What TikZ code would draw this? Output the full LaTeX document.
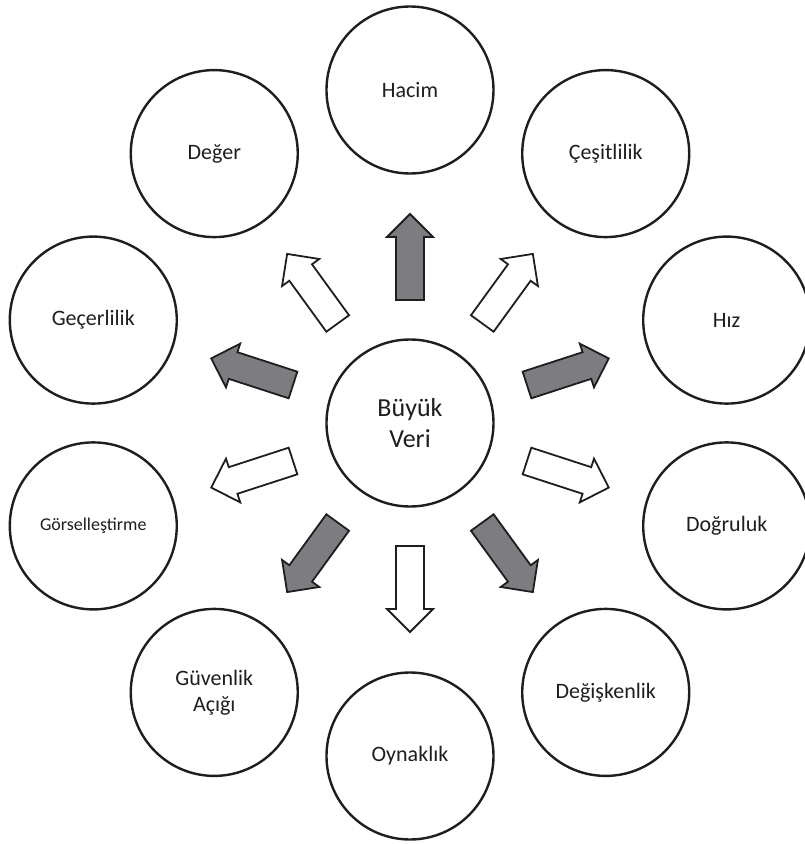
\documentclass[tikz,border=0pt]{standalone}
\usepackage{fontspec}
\setmainfont{Carlito}
\usepackage{tikz}
\definecolor{arrowgray}{RGB}{124,124,129}
\definecolor{inkgray}{RGB}{30,30,30}

\begin{document}
\begin{tikzpicture}[x=1pt, y=1pt,
    topic/.style={circle, draw=inkgray, line width=2.4pt, fill=white,
      minimum size=167pt, inner sep=0pt, align=center, text=inkgray,
      font=\fontsize{22}{26}\selectfont},
    blockarrow/.style={draw=inkgray, line width=1.8pt, line join=miter}]
    \useasboundingbox (-410,-421) rectangle (395,423);
    \clip (-410,-421) rectangle (395,423);

    \node [topic, font=\fontsize{26}{31}\selectfont] (veri) at (0,0) {Büyük\\Veri};

    \node [topic] (hacim) at (90:333) {Hacim};
    \node [topic] (cesitlilik) at (54:333) {Çeşitlilik};
    \node [topic] (hiz) at (18:333) {Hız};
    \node [topic] (dogruluk) at (-18:333) {Doğruluk};
    \node [topic] (degiskenlik) at (-54:333) {Değişkenlik};
    \node [topic] (oynaklik) at (-90:333) {Oynaklık};
    \node [topic] (guvenlik) at (-126:333) {Güvenlik\\Açığı};
    \node [topic, font=\fontsize{18}{22}\selectfont] (gorsel) at (-162:333) {Görselleştirme};
    \node [topic] (gecerlilik) at (162:333) {Geçerlilik};
    \node [topic] (deger) at (126:333) {Değer};

    % block arrows, alternating gray and white
    \foreach \ang/\col in {90/arrowgray, 54/white, 18/arrowgray, -18/white, -54/arrowgray,
                           -90/white, -126/arrowgray, -162/white, 162/arrowgray, 126/white}{
      \draw [blockarrow, fill=\col, rotate=\ang]
        (123,-14) -- (186,-14) -- (186,-23) -- (209,0) -- (186,23) -- (186,14) -- (123,14) -- cycle;
    }
  \end{tikzpicture}
\end{document}
